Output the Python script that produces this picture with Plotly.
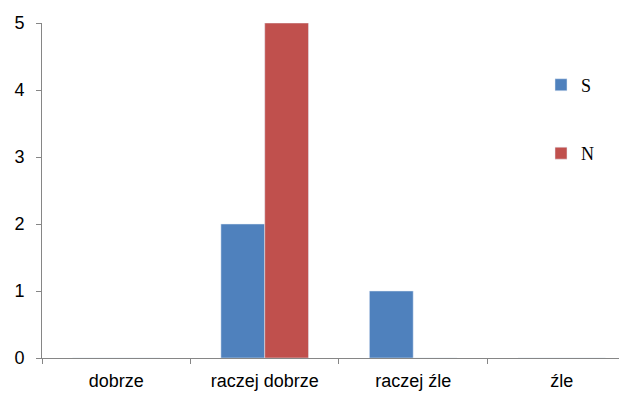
import plotly.graph_objects as go

categories = ["dobrze", "raczej dobrze", "raczej źle", "źle"]
s_values = [0, 2, 1, 0]
n_values = [0, 5, 0, 0]

fig = go.Figure()
fig.add_trace(go.Bar(x=categories, y=s_values, name="S", marker_color="#4F81BD",
                     legendgroup="s"))
fig.add_trace(go.Bar(x=categories, y=n_values, name="N", marker_color="#C0504D",
                     legendgroup="n"))

fig.update_xaxes(
    range=[-0.5, 3.44], automargin=False,
    showline=True, linecolor="#868686", linewidth=1,
    ticks="outside", tickson="boundaries", ticklen=5, tickcolor="#868686",
    ticklabelstandoff=6,
    tickfont=dict(family="Liberation Sans, Arial", size=18, color="#000000"),
    showgrid=False,
)
fig.update_yaxes(
    range=[0, 5], dtick=1, automargin=False,
    showline=True, linecolor="#868686", linewidth=1,
    ticks="outside", ticklen=5, tickcolor="#868686",
    ticklabelstandoff=8,
    tickfont=dict(family="Liberation Sans, Arial", size=18, color="#000000"),
    showgrid=False, zeroline=False,
)

fig.update_layout(
    width=619, height=388,
    barmode="group", bargap=0.41, bargroupgap=0,
    plot_bgcolor="white", paper_bgcolor="white",
    margin=dict(l=34, r=0, t=15, b=38),
    legend=dict(
        x=0.853, y=0.87, xanchor="left", yanchor="top",
        font=dict(family="Liberation Serif, Times New Roman", size=18, color="#000000"),
        traceorder="grouped", tracegroupgap=42,
        bgcolor="rgba(0,0,0,0)",
    ),
)

fig.write_html("out.html")
